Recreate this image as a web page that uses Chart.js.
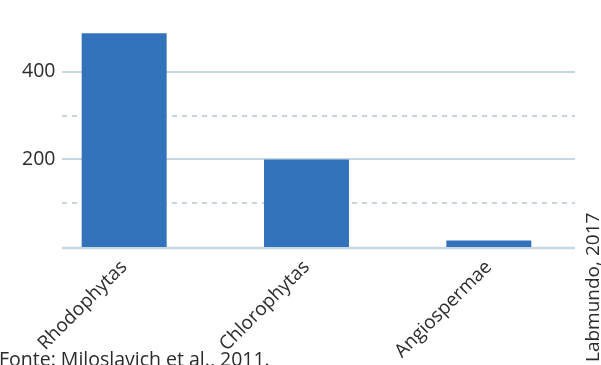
<!DOCTYPE html>
<html>
<head>
<meta charset="utf-8">
<script src="https://cdn.jsdelivr.net/npm/chart.js@4/dist/chart.umd.min.js"></script>
<style>
  html, body { margin: 0; padding: 0; background: #ffffff; }
  #wrap { width: 601px; height: 365px; }
</style>
</head>
<body>
<div id="wrap"><canvas id="c" width="601" height="365"></canvas></div>
<script>
// Número de espécies por grupo
const categories = ['Rhodophytas', 'Chlorophytas', 'Angiospermae'];
const especies = [488, 200, 15];
const yTickValues = [200, 400];
const solidGridValues = [200, 400];
const dashedGridValues = [100, 300];
const sourceText = 'Fonte: Miloslavich et al., 2011.';
const creditText = 'Labmundo, 2017';

const FONT = '"Open Sans", "Noto Sans", sans-serif';
const TEXT = '#2b2b2b';
const GRID = '#c6d7e2';
const BAR = '#3373bc';

// Horizontal guide lines drawn under the bars
const guideLines = {
  id: 'guideLines',
  beforeDatasetsDraw(chart) {
    const { ctx, scales: { y } } = chart;
    const x0 = 62, x1 = 575;
    ctx.save();
    ctx.strokeStyle = GRID;
    ctx.lineWidth = 2;
    solidGridValues.forEach(v => {
      const py = Math.round(y.getPixelForValue(v));
      ctx.beginPath(); ctx.moveTo(x0, py); ctx.lineTo(x1, py); ctx.stroke();
    });
    ctx.setLineDash([5, 5]);
    dashedGridValues.forEach(v => {
      const py = Math.round(y.getPixelForValue(v));
      ctx.beginPath(); ctx.moveTo(x0, py); ctx.lineTo(x1, py); ctx.stroke();
    });
    ctx.setLineDash([]);
    ctx.lineWidth = 2.5;
    const base = y.getPixelForValue(0) + 1;
    ctx.beginPath(); ctx.moveTo(x0, base); ctx.lineTo(x1, base); ctx.stroke();
    ctx.restore();
  }
};

// Source and credit notes
const notes = {
  id: 'notes',
  afterDraw(chart) {
    const { ctx } = chart;
    ctx.save();
    ctx.fillStyle = TEXT;
    ctx.font = '19.5px ' + FONT;
    ctx.textAlign = 'left';
    ctx.textBaseline = 'alphabetic';
    ctx.fillText(sourceText, -1, 366);
    ctx.font = '19px ' + FONT;
    ctx.translate(599, 362);
    ctx.rotate(-Math.PI / 2);
    ctx.fillText(creditText, 0, 0);
    ctx.restore();
  }
};

new Chart(document.getElementById('c'), {
  type: 'bar',
  data: {
    labels: categories,
    datasets: [{
      data: especies,
      backgroundColor: BAR,
      borderWidth: 0,
      barPercentage: 0.466,
      categoryPercentage: 1
    }]
  },
  options: {
    responsive: false,
    animation: false,
    events: [],
    layout: { padding: { left: 0, right: 21, top: 28, bottom: 0 } },
    plugins: { legend: { display: false }, tooltip: { enabled: false } },
    scales: {
      x: {
        offset: true,
        grid: { display: false },
        border: { display: false },
        ticks: {
          color: TEXT,
          font: { family: FONT, size: 19 },
          minRotation: 45,
          maxRotation: 45,
          padding: 1
        },
        afterFit(scale) { scale.height = 118; }
      },
      y: {
        min: 0,
        max: 500,
        grid: { display: false },
        border: { display: false },
        afterBuildTicks(scale) { scale.ticks = yTickValues.map(v => ({ value: v })); },
        ticks: {
          color: TEXT,
          font: { family: FONT, size: 19.5 },
          mirror: true,
          padding: -11
        },
        afterFit(scale) { scale.width = 33; }
      }
    }
  },
  plugins: [guideLines, notes]
});
</script>
</body>
</html>
